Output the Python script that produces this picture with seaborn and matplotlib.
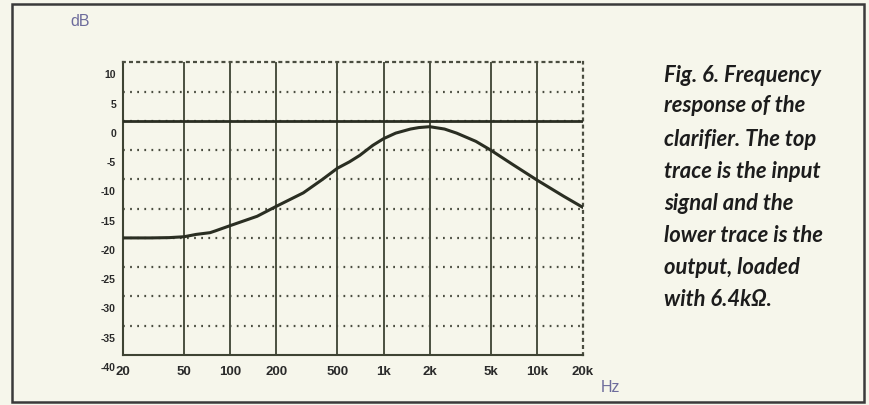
import matplotlib
matplotlib.use("Agg")
import matplotlib.pyplot as plt
import pandas as pd
import seaborn as sns
from matplotlib.transforms import offset_copy
from matplotlib.patches import Rectangle

# Output of the clarifier (lower trace), dB vs frequency
freq_hz = [20, 30, 40, 50, 60, 74, 80, 100, 150, 200, 300, 400, 500, 600, 700,
           850, 1000, 1200, 1500, 1700, 2000, 2500, 3000, 4000, 5000, 7000,
           10000, 15000, 20000]
output_db = [-20.0, -20.0, -19.95, -19.8, -19.4, -19.1, -18.8, -17.9, -16.3,
             -14.6, -12.3, -10.0, -8.1, -7.0, -5.9, -4.2, -3.05, -2.1, -1.4,
             -1.15, -1.0, -1.4, -2.1, -3.5, -5.0, -7.5, -10.1, -12.9, -14.8]

# Input signal (top trace)
input_freq_hz = [20, 200, 2000, 20000]
input_db = [0.0, 0.0, 0.0, 0.0]

x_ticks = [20, 50, 100, 200, 500, 1000, 2000, 5000, 10000, 20000]
x_labels = ["20", "50", "100", "200", "500", "1k", "2k", "5k", "10k", "20k"]
y_ticks = [10, 5, 0, -5, -10, -15, -20, -25, -30, -35, -40]
y_labels = ["10", "5", "0", "-5", "-10", "-15", "-20", "-25", "-30", "-35", "-40"]

caption = ["Fig. 6. Frequency", "response of the", "clarifier. The top",
           "trace is the input", "signal and the", "lower trace is the",
           "output, loaded", "with 6.4k\u03a9."]

BG = "#f6f6eb"
GRID = "#3e4333"
TRACE = "#2a2e22"
UNIT = "#6d6c9c"
INK = "#1c1c1c"

sns.set_theme(style="white")
plt.rcParams["font.family"] = ["Liberation Sans", "DejaVu Sans"]

fig = plt.figure(figsize=(8.7, 4.05), dpi=100, facecolor=BG)
ax = fig.add_axes([123 / 870, 50 / 405, 460 / 870, 292.7 / 405])
ax.set_facecolor(BG)

out_df = pd.DataFrame({"freq": freq_hz, "dB": output_db})
in_df = pd.DataFrame({"freq": input_freq_hz, "dB": input_db})

ax.set_xscale("log")
ax.set_xlim(20, 20000)
ax.set_ylim(-40, 10)

# grid: solid verticals, dotted horizontals
for f in x_ticks[1:-1]:
    ax.axvline(f, color=GRID, lw=1.3, zorder=1)
for v in y_ticks[1:-1]:
    ax.axhline(v, color="#4a4d40", lw=1.6, ls=(0, (0.8, 2.4)), zorder=1)

sns.lineplot(data=in_df, x="freq", y="dB", ax=ax, color=TRACE, lw=2.0, zorder=3)
sns.lineplot(data=out_df, x="freq", y="dB", ax=ax, color=TRACE, lw=2.2, zorder=3)

for side in ["left", "bottom"]:
    ax.spines[side].set_color(GRID)
    ax.spines[side].set_linewidth(1.5)
for side in ["top", "right"]:
    ax.spines[side].set_color("#4a4d40")
    ax.spines[side].set_linewidth(1.6)
    ax.spines[side].set_linestyle((0, (0.8, 2.4)))

ax.set_xticks(x_ticks)
ax.set_xticklabels(x_labels)
ax.xaxis.set_minor_locator(matplotlib.ticker.NullLocator())
ax.tick_params(axis="x", direction="out", length=3, width=1.2, color=GRID,
               pad=5, labelsize=9.5, labelcolor="#2a2a2a")
for t in ax.get_xticklabels():
    t.set_fontweight("bold")

# y labels sit a little below their gridlines
ax.set_yticks(y_ticks)
ax.set_yticklabels([])
ax.tick_params(axis="y", length=0)
ytrans = offset_copy(ax.get_yaxis_transform(), fig=fig, x=-7, y=-13, units="dots")
for v, lab in zip(y_ticks, y_labels):
    ax.text(0, v, lab, transform=ytrans, ha="right", va="center",
            fontsize=7.5, fontweight="bold", color="#2a2a2a")

ax.set_xlabel("")
ax.set_ylabel("")

fig.text(80 / 870, 1 - 21 / 405, "dB", ha="center", va="center",
         fontsize=11.5, color=UNIT)
fig.text(610 / 870, 1 - 388 / 405, "Hz", ha="center", va="center",
         fontsize=11.5, color=UNIT)

line_y = [75, 106, 139, 171, 203, 235, 267, 299]
for y, line in zip(line_y, caption):
    fig.text(664 / 870, 1 - y / 405, line, ha="left", va="center",
             fontsize=15.8, fontweight="bold", fontstyle="italic",
             family=["Lato", "DejaVu Sans"], color=INK)

# outer frame
fig.patches.append(Rectangle((12 / 870, 3 / 405), 852 / 870, 398 / 405,
                             transform=fig.transFigure, fill=False,
                             edgecolor="#3a3a3a", lw=1.8))

fig.savefig("out.png", dpi=100, facecolor=BG)
